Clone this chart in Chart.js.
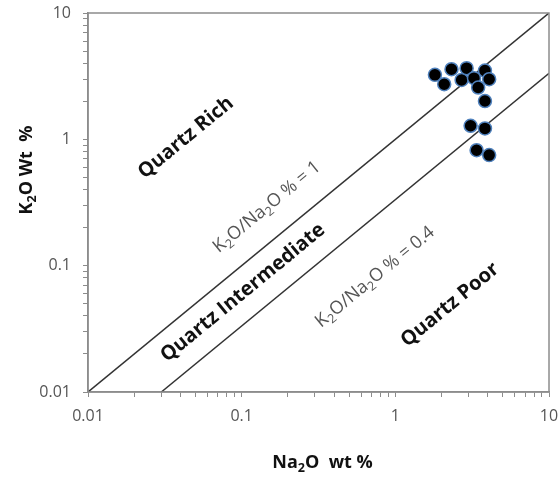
<!DOCTYPE html>
<html>
<head>
<meta charset="utf-8">
<script src="https://cdn.jsdelivr.net/npm/chart.js@4"></script>
<style>
  html, body { margin: 0; padding: 0; background: #fff; }
  #wrap { width: 560px; height: 480px; }
</style>
</head>
<body>
<div id="wrap"><canvas id="chart"></canvas></div>
<script>
// sample points (Na2O, K2O)
const na2o = [1.81, 2.08, 2.32, 2.70, 2.91, 3.25, 3.83, 4.08, 3.46, 3.83, 3.09, 3.83, 3.38, 4.08];
const k2o  = [3.24, 2.73, 3.59, 2.95, 3.66, 3.05, 3.50, 2.99, 2.57, 2.01, 1.28, 1.22, 0.82, 0.75];

// divider lines
const line1X = [0.01, 10];
const line1Y = [0.01, 10];
const line2X = [0.03, 10];
const line2Y = [0.01, 3.33];

const tickLabels = [0.01, 0.1, 1, 10];

// field labels: text parts [string, isSubscript]
const fieldLabels = [
  { parts: [['Quartz Rich', 0]], x: 0.0434, y: 1.03, bold: true },
  { parts: [['K', 0], ['2', 1], ['O/Na', 0], ['2', 1], ['O % = 1', 0]], x: 0.146, y: 0.291, bold: false },
  { parts: [['Quartz Intermediate', 0]], x: 0.102, y: 0.061, bold: true },
  { parts: [['K', 0], ['2', 1], ['O/Na', 0], ['2', 1], ['O % = 0.4', 0]], x: 0.738, y: 0.0813, bold: false },
  { parts: [['Quartz Poor', 0]], x: 2.27, y: 0.049, bold: true }
];

const xTitle = [['Na', 0], ['2', 1], ['O  wt %', 0]];
const yTitle = [['K', 0], ['2', 1], ['O Wt  %', 0]];

function toPts(xs, ys) {
  return xs.map((x, i) => ({ x: x, y: ys[i] }));
}

function logTicks(scale) {
  const t = [];
  for (let e = -2; e <= 0; e++) {
    for (let m = 1; m <= 9; m++) t.push({ value: m * Math.pow(10, e) });
  }
  t.push({ value: 10 });
  scale.ticks = t;
}

function drawParts(ctx, parts, size, bold, color) {
  const fam = '"Open Sans", sans-serif';
  const w = parts.map(p => {
    ctx.font = (bold ? 'bold ' : '') + (p[1] ? size * 0.7 : size) + 'px ' + fam;
    return ctx.measureText(p[0]).width;
  });
  const total = w.reduce((a, b) => a + b, 0);
  let x = -total / 2;
  ctx.fillStyle = color;
  ctx.textBaseline = 'middle';
  ctx.textAlign = 'left';
  parts.forEach((p, i) => {
    ctx.font = (bold ? 'bold ' : '') + (p[1] ? size * 0.7 : size) + 'px ' + fam;
    ctx.fillText(p[0], x, p[1] ? size * 0.3 : 0);
    x += w[i];
  });
}

const textPlugin = {
  id: 'textPlugin',
  afterDraw(chart) {
    const ctx = chart.ctx;
    const xs = chart.scales.x, ys = chart.scales.y;
    const a = chart.chartArea;

    // frame
    ctx.save();
    ctx.strokeStyle = '#8c8c8c';
    ctx.lineWidth = 1.5;
    ctx.strokeRect(a.left, a.top, a.right - a.left, a.bottom - a.top);
    ctx.restore();

    const ang = Math.atan2(ys.getPixelForValue(10) - ys.getPixelForValue(0.01),
                           xs.getPixelForValue(10) - xs.getPixelForValue(0.01));
    fieldLabels.forEach(l => {
      ctx.save();
      ctx.translate(xs.getPixelForValue(l.x), ys.getPixelForValue(l.y));
      ctx.rotate(ang);
      drawParts(ctx, l.parts, l.bold ? 20 : 18, l.bold, l.bold ? '#111' : '#555');
      ctx.restore();
    });

    // axis titles
    ctx.save();
    ctx.translate((a.left + a.right) / 2 + 4, 463);
    drawParts(ctx, xTitle, 18, true, '#111');
    ctx.restore();
    ctx.save();
    ctx.translate(27, 170);
    ctx.rotate(-Math.PI / 2);
    drawParts(ctx, yTitle, 18, true, '#111');
    ctx.restore();
  }
};

const tickFont = { family: '"Open Sans", sans-serif', size: 16 };

new Chart(document.getElementById('chart'), {
  type: 'scatter',
  data: {
    datasets: [
      {
        label: 'Samples',
        data: toPts(na2o, k2o),
        backgroundColor: '#000',
        borderColor: '#4f81bd',
        borderWidth: 1.5,
        pointRadius: 6.5
      },
      {
        label: 'K2O/Na2O = 1',
        type: 'line',
        data: toPts(line1X, line1Y),
        borderColor: '#333',
        borderWidth: 1.5,
        pointRadius: 0,
        fill: false
      },
      {
        label: 'K2O/Na2O = 0.4',
        type: 'line',
        data: toPts(line2X, line2Y),
        borderColor: '#333',
        borderWidth: 1.5,
        pointRadius: 0,
        fill: false
      }
    ]
  },
  options: {
    responsive: true,
    maintainAspectRatio: false,
    animation: false,
    layout: { padding: { top: 13, right: 11, left: 0, bottom: 0 } },
    plugins: {
      legend: { display: false },
      tooltip: { enabled: false }
    },
    scales: {
      x: {
        type: 'logarithmic',
        min: 0.01,
        max: 10,
        afterBuildTicks: logTicks,
        afterFit: s => { s.height = 88; s.paddingLeft = 0; s.paddingRight = 0; },
        grid: { drawOnChartArea: false, drawTicks: true, tickLength: 5, color: '#8c8c8c' },
        border: { color: '#8c8c8c', width: 1.5 },
        ticks: {
          autoSkip: false,
          maxRotation: 0,
          padding: 10,
          color: '#555',
          font: tickFont,
          callback: v => tickLabels.includes(v) ? String(v) : ''
        }
      },
      y: {
        type: 'logarithmic',
        min: 0.01,
        max: 10,
        afterBuildTicks: logTicks,
        afterFit: s => { s.width = 88; s.paddingTop = 0; s.paddingBottom = 0; },
        grid: { drawOnChartArea: false, drawTicks: true, tickLength: 5, color: '#8c8c8c' },
        border: { color: '#8c8c8c', width: 1.5 },
        ticks: {
          autoSkip: false,
          padding: 12,
          color: '#555',
          font: tickFont,
          callback: v => tickLabels.includes(v) ? String(v) : ''
        }
      }
    }
  },
  plugins: [textPlugin]
});
</script>
</body>
</html>
